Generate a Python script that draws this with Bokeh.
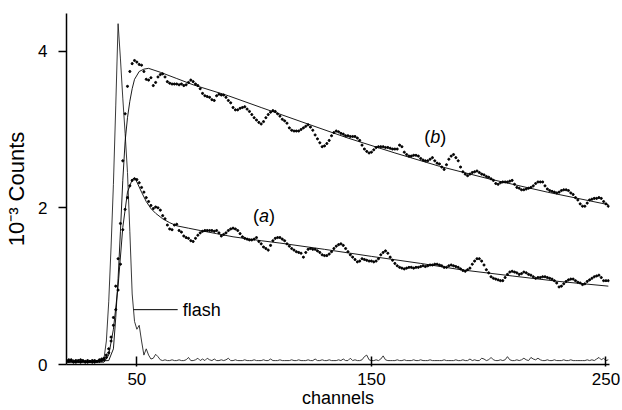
import math
from bokeh.plotting import figure
from bokeh.models import Range1d, FixedTicker, Label
from bokeh.embed import file_html
from bokeh.resources import INLINE

FONT = "Liberation Sans"

# channels 20..251
channels = list(range(20, 252))

# series (a) dots, one value per channel (20..251)
a_counts = [
    0.05, 0.04, 0.06, 0.03, 0.05, 0.04, 0.03, 0.05, 0.04, 0.03,   # 20-29
    0.04, 0.05, 0.03, 0.04, 0.04, 0.05, 0.06, 0.09, 0.15, 0.30,   # 30-39
    0.50, 0.70, 0.95, 1.28, 1.72, 1.98, 2.13, 2.28, 2.35, 2.37,   # 40-49
    2.36, 2.32, 2.26, 2.20, 2.13, 2.08, 2.03, 1.99, 2.01, 2.00,   # 50-59
    1.97, 1.90, 1.86, 1.78, 1.73, 1.72, 1.78, 1.79, 1.71, 1.69,   # 60-69
    1.64, 1.62, 1.61, 1.58, 1.57, 1.61, 1.65, 1.68, 1.70, 1.71,   # 70-79
    1.71, 1.71, 1.71, 1.70, 1.71, 1.68, 1.64, 1.66, 1.68, 1.71,   # 80-89
    1.73, 1.74, 1.73, 1.71, 1.67, 1.63, 1.61, 1.60, 1.59, 1.59,   # 90-99
    1.60, 1.62, 1.57, 1.54, 1.50, 1.48, 1.46, 1.52, 1.58, 1.61,   # 100-109
    1.62, 1.62, 1.60, 1.58, 1.54, 1.51, 1.48, 1.46, 1.44, 1.43,   # 110-119
    1.42, 1.37, 1.43, 1.47, 1.48, 1.47, 1.47, 1.45, 1.43, 1.40,   # 120-129
    1.39, 1.39, 1.41, 1.44, 1.48, 1.51, 1.53, 1.54, 1.52, 1.48,   # 130-139
    1.44, 1.40, 1.37, 1.34, 1.31, 1.32, 1.35, 1.34, 1.33, 1.32,   # 140-149
    1.32, 1.31, 1.32, 1.35, 1.40, 1.43, 1.45, 1.42, 1.37, 1.33,   # 150-159
    1.29, 1.26, 1.24, 1.23, 1.22, 1.23, 1.24, 1.24, 1.23, 1.24,   # 160-169
    1.24, 1.25, 1.26, 1.25, 1.26, 1.27, 1.27, 1.28, 1.28, 1.27,   # 170-179
    1.26, 1.24, 1.24, 1.26, 1.27, 1.26, 1.25, 1.24, 1.22, 1.20,   # 180-189
    1.19, 1.21, 1.23, 1.28, 1.32, 1.35, 1.35, 1.32, 1.27, 1.21,   # 190-199
    1.17, 1.12, 1.10, 1.09, 1.08, 1.07, 1.07, 1.11, 1.15, 1.18,   # 200-209
    1.19, 1.18, 1.17, 1.15, 1.16, 1.18, 1.17, 1.15, 1.14, 1.12,   # 210-219
    1.10, 1.11, 1.11, 1.12, 1.12, 1.11, 1.10, 1.09, 1.07, 1.04,   # 220-229
    0.99, 1.00, 1.03, 1.06, 1.08, 1.09, 1.09, 1.07, 1.05, 1.04,   # 230-239
    1.02, 1.03, 1.06, 1.08, 1.10, 1.12, 1.13, 1.14, 1.11, 1.07,   # 240-249
    1.07, 1.07,                                                   # 250-251
]

# series (b) dots, one value per channel (20..251)
b_counts = [
    0.04, 0.06, 0.05, 0.04, 0.03, 0.05, 0.06, 0.04, 0.03, 0.05,   # 20-29
    0.04, 0.03, 0.05, 0.04, 0.06, 0.07, 0.08, 0.12, 0.20, 0.35,   # 30-39
    0.60, 1.00, 1.35, 1.80, 2.60, 3.20, 3.55, 3.74, 3.84, 3.88,   # 40-49
    3.86, 3.83, 3.82, 3.74, 3.64, 3.63, 3.66, 3.56, 3.60, 3.67,   # 50-59
    3.70, 3.71, 3.67, 3.61, 3.59, 3.58, 3.58, 3.58, 3.57, 3.58,   # 60-69
    3.56, 3.57, 3.60, 3.63, 3.61, 3.58, 3.56, 3.52, 3.46, 3.43,   # 70-79
    3.42, 3.41, 3.38, 3.37, 3.43, 3.45, 3.44, 3.44, 3.41, 3.37,   # 80-89
    3.34, 3.28, 3.25, 3.25, 3.27, 3.28, 3.29, 3.26, 3.23, 3.19,   # 90-99
    3.15, 3.12, 3.09, 3.07, 3.10, 3.15, 3.19, 3.22, 3.24, 3.23,   # 100-109
    3.20, 3.17, 3.13, 3.11, 3.08, 3.02, 2.99, 2.98, 2.98, 2.98,   # 110-119
    3.00, 3.02, 3.04, 3.06, 3.03, 2.99, 2.93, 2.88, 2.83, 2.78,   # 120-129
    2.79, 2.82, 2.86, 2.92, 2.96, 2.98, 2.97, 2.95, 2.94, 2.92,   # 130-139
    2.92, 2.91, 2.91, 2.91, 2.89, 2.86, 2.80, 2.75, 2.72, 2.70,   # 140-149
    2.71, 2.74, 2.77, 2.78, 2.78, 2.78, 2.77, 2.77, 2.76, 2.75,   # 150-159
    2.75, 2.75, 2.80, 2.78, 2.71, 2.68, 2.66, 2.66, 2.67, 2.67,   # 160-169
    2.66, 2.63, 2.61, 2.60, 2.60, 2.62, 2.64, 2.60, 2.57, 2.56,   # 170-179
    2.52, 2.49, 2.55, 2.62, 2.66, 2.68, 2.64, 2.60, 2.52, 2.46,   # 180-189
    2.43, 2.41, 2.43, 2.45, 2.46, 2.47, 2.45, 2.43, 2.42, 2.40,   # 190-199
    2.39, 2.37, 2.35, 2.31, 2.30, 2.32, 2.33, 2.33, 2.33, 2.34,   # 200-209
    2.35, 2.30, 2.26, 2.25, 2.23, 2.23, 2.24, 2.25, 2.26, 2.28,   # 210-219
    2.31, 2.33, 2.33, 2.33, 2.28, 2.24, 2.22, 2.21, 2.20, 2.19,   # 220-229
    2.20, 2.22, 2.23, 2.23, 2.22, 2.19, 2.17, 2.13, 2.10, 2.05,   # 230-239
    2.02, 2.02, 2.06, 2.10, 2.11, 2.12, 2.12, 2.13, 2.12, 2.08,   # 240-249
    2.05, 2.02,                                                   # 250-251
]

# lamp flash profile, one value per channel (20..251)
flash_counts = [
    0.04, 0.05, 0.03, 0.06, 0.04, 0.03, 0.05, 0.04, 0.03, 0.04,   # 20-29
    0.03, 0.04, 0.05, 0.04, 0.05, 0.06, 0.08, 0.30, 0.80, 1.50,   # 30-39
    2.30, 3.30, 4.35, 3.90, 3.40, 2.95, 2.45, 1.70, 0.90, 0.55,   # 40-49
    0.45, 0.50, 0.30, 0.12, 0.20, 0.12, 0.07, 0.08, 0.13, 0.10,   # 50-59
    0.06, 0.05, 0.06, 0.05, 0.05, 0.06, 0.05, 0.05, 0.06, 0.05,   # 60-69
    0.05, 0.06, 0.09, 0.05, 0.05, 0.06, 0.08, 0.05, 0.07, 0.05,   # 70-79
    0.08, 0.06, 0.05, 0.07, 0.05, 0.05, 0.06, 0.05, 0.06, 0.08,   # 80-89
    0.05, 0.05, 0.06, 0.05, 0.05, 0.05, 0.06, 0.05, 0.05, 0.05,   # 90-99
    0.06, 0.05, 0.05, 0.05, 0.06, 0.05, 0.05, 0.07, 0.05, 0.05,   # 100-109
    0.05, 0.06, 0.05, 0.05, 0.05, 0.05, 0.06, 0.05, 0.05, 0.06,   # 110-119
    0.05, 0.05, 0.05, 0.06, 0.05, 0.05, 0.07, 0.05, 0.05, 0.06,   # 120-129
    0.05, 0.05, 0.06, 0.05, 0.05, 0.05, 0.06, 0.05, 0.07, 0.05,   # 130-139
    0.05, 0.08, 0.05, 0.06, 0.05, 0.05, 0.06, 0.10, 0.12, 0.06,   # 140-149
    0.05, 0.05, 0.06, 0.05, 0.07, 0.11, 0.06, 0.05, 0.05, 0.05,   # 150-159
    0.05, 0.06, 0.05, 0.05, 0.06, 0.05, 0.05, 0.05, 0.06, 0.05,   # 160-169
    0.05, 0.06, 0.05, 0.05, 0.05, 0.06, 0.05, 0.05, 0.05, 0.05,   # 170-179
    0.05, 0.06, 0.05, 0.05, 0.05, 0.05, 0.06, 0.05, 0.05, 0.06,   # 180-189
    0.05, 0.05, 0.07, 0.05, 0.06, 0.05, 0.05, 0.08, 0.07, 0.05,   # 190-199
    0.06, 0.09, 0.06, 0.05, 0.05, 0.06, 0.05, 0.06, 0.10, 0.06,   # 200-209
    0.05, 0.05, 0.06, 0.05, 0.06, 0.08, 0.06, 0.05, 0.09, 0.07,   # 210-219
    0.06, 0.08, 0.06, 0.05, 0.05, 0.06, 0.05, 0.05, 0.06, 0.05,   # 220-229
    0.05, 0.05, 0.06, 0.05, 0.05, 0.06, 0.05, 0.05, 0.05, 0.05,   # 230-239
    0.05, 0.05, 0.06, 0.05, 0.06, 0.05, 0.07, 0.09, 0.06, 0.08,   # 240-249
    0.05, 0.06,                                                   # 250-251
]

# fitted curves (read at selected channels)
a_fit_ch = [20, 36, 38, 40, 42, 44, 46, 48, 49, 50, 52, 54, 56, 58, 61, 64, 67,
            72, 77, 84, 91, 103, 111, 130, 150, 171, 188, 210, 230, 251]
a_fit = [0.03, 0.03, 0.12, 0.45, 1.00, 1.75, 2.20, 2.36, 2.38, 2.33, 2.20, 2.08,
         1.99, 1.93, 1.86, 1.81, 1.77, 1.74, 1.71, 1.67, 1.63, 1.58, 1.55, 1.47,
         1.38, 1.29, 1.21, 1.13, 1.06, 1.00]

b_fit_ch = [20, 38, 40, 41, 42, 43, 44, 45, 46, 47, 48, 49, 51, 53, 55, 60, 67,
            74, 89, 103, 120, 140, 160, 179, 200, 225, 251]
b_fit = [0.03, 0.05, 0.20, 0.60, 1.10, 1.70, 2.35, 2.85, 3.15, 3.36, 3.52, 3.64,
         3.74, 3.77, 3.78, 3.73, 3.65, 3.57, 3.43, 3.28, 3.10, 2.89, 2.70, 2.53,
         2.37, 2.20, 2.04]

x_ticks = [50, 150, 250]
y_ticks = [0, 2, 4]

p = figure(width=622, height=410, output_backend="svg", toolbar_location=None,
           x_range=Range1d(20, 251.5), y_range=Range1d(0, 4.48),
           min_border_left=66, min_border_right=13, min_border_top=13,
           min_border_bottom=43)
p.outline_line_color = None
p.xgrid.visible = False
p.ygrid.visible = False
p.background_fill_color = "white"

for ax in (p.xaxis[0], p.yaxis[0]):
    ax.axis_line_width = 1.5
    ax.axis_line_color = "black"
    ax.major_tick_line_width = 1.5
    ax.major_tick_line_color = "black"
    ax.minor_tick_line_color = None
    ax.major_label_text_font = FONT
    ax.major_label_text_color = "black"
    ax.axis_label_text_font = FONT
    ax.axis_label_text_font_style = "normal"
    ax.axis_label_text_color = "black"

p.xaxis.ticker = FixedTicker(ticks=x_ticks)
p.xaxis.major_tick_in = 8
p.xaxis.major_tick_out = 2
p.xaxis.major_label_standoff = 6
p.xaxis.major_label_text_font_size = "17px"
p.xaxis.axis_label = "channels"
p.xaxis.axis_label_text_font_size = "18px"
p.xaxis.axis_label_standoff = 0

p.yaxis.ticker = FixedTicker(ticks=y_ticks)
p.yaxis.major_tick_in = 0
p.yaxis.major_tick_out = 8
p.yaxis.major_label_standoff = 11
p.yaxis.major_label_text_font_size = "17px"
p.yaxis.axis_label = "10\u207b\u00b3 Counts"
p.yaxis.axis_label_text_font_size = "22px"
p.yaxis.axis_label_standoff = 6

# curves
p.line(channels, flash_counts, line_width=0.9, line_color="#222222")
p.line(a_fit_ch, a_fit, line_width=0.9, line_color="black")
p.line(b_fit_ch, b_fit, line_width=0.9, line_color="black")
p.scatter(channels, a_counts, marker="circle", size=2.1, color="black")
p.scatter(channels, b_counts, marker="circle", size=2.1, color="black")

# flash pointer
p.segment(x0=[48.6], y0=[0.70], x1=[67.4], y1=[0.70], line_width=1, line_color="black")


def lab(x, y, text, size="18px", style="normal", xo=0):
    p.add_layout(Label(x=x, y=y, text=text, x_offset=xo,
                       text_font=FONT, text_font_size=size,
                       text_font_style=style, text_color="black",
                       text_align="left", text_baseline="middle"))


lab(69.6, 0.70, "flash")
# (a)
lab(99.5, 1.90, "(")
lab(99.5, 1.90, "a", style="italic", xo=6)
lab(99.5, 1.90, ")", xo=16)
# (b)
lab(172.5, 2.90, "(")
lab(172.5, 2.90, "b", style="italic", xo=6)
lab(172.5, 2.90, ")", xo=16)

open("out.html", "w").write(file_html(p, INLINE))
